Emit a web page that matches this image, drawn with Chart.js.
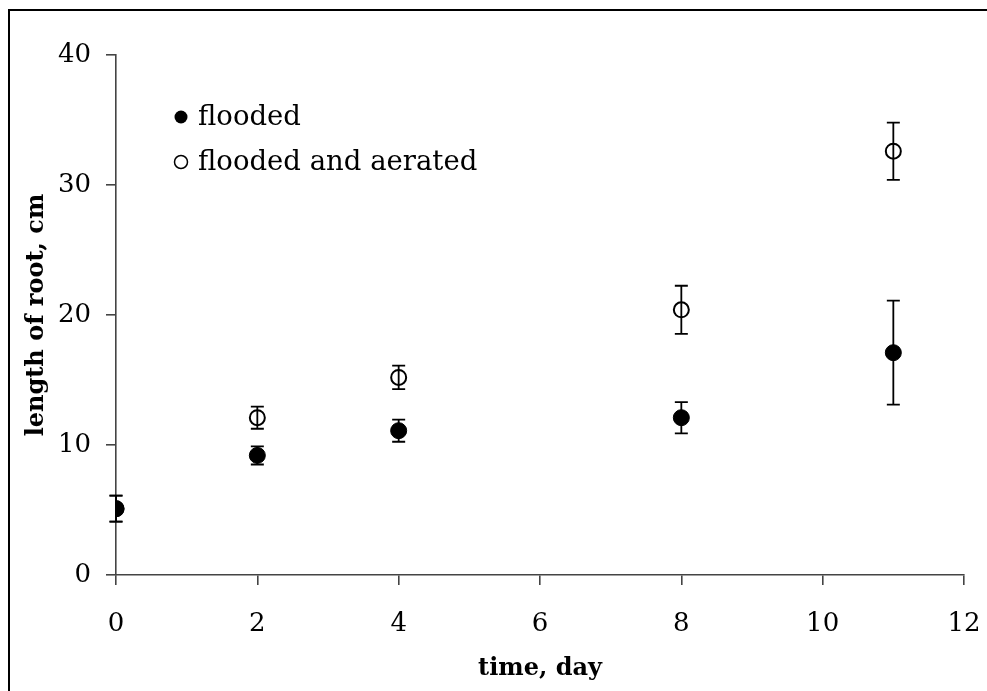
<!DOCTYPE html>
<html>
<head>
<meta charset="utf-8">
<script src="https://cdn.jsdelivr.net/npm/chart.js@4.4.0/dist/chart.umd.min.js"></script>
<style>
  body { margin: 0; background: #fff; overflow: hidden; }
  #frame { position: absolute; left: 8px; top: 9px; width: 1100px; height: 800px; border: 2px solid #000; }
  #wrap { position: absolute; left: 0; top: 0; width: 987px; height: 691px; }
</style>
</head>
<body>
<div id="frame"></div>
<div id="wrap"><canvas id="canvas"></canvas></div>
<script>
// data
const days = [0, 2, 4, 8, 11];
const flooded = [5.1, 9.2, 11.1, 12.1, 17.1];
const floodedErr = [1.0, 0.7, 0.85, 1.2, 4.0];
const aerated = [5.1, 12.1, 15.2, 20.4, 32.6];
const aeratedErr = [1.0, 0.85, 0.9, 1.85, 2.2];
const xTicks = [0, 2, 4, 6, 8, 10, 12];
const yTicks = [0, 10, 20, 30, 40];

const serif = 'DejaVu Serif';
const axisColor = '#444';

function toPoints(ys, errs) {
  return days.map((d, i) => ({ x: d, y: ys[i], err: errs[i] }));
}

// error bars, drawn through the scales
const errorBars = {
  id: 'errorBars',
  afterDatasetsDraw(chart) {
    const ctx = chart.ctx;
    const xs = chart.scales.x, ys = chart.scales.y;
    ctx.save();
    ctx.strokeStyle = '#000';
    ctx.lineWidth = 1.8;
    chart.data.datasets.forEach(ds => {
      ds.data.forEach(p => {
        const px = xs.getPixelForValue(p.x);
        const top = ys.getPixelForValue(p.y + p.err);
        const bot = ys.getPixelForValue(p.y - p.err);
        ctx.beginPath();
        ctx.moveTo(px, top); ctx.lineTo(px, bot);
        ctx.moveTo(px - 6.5, top); ctx.lineTo(px + 6.5, top);
        ctx.moveTo(px - 6.5, bot); ctx.lineTo(px + 6.5, bot);
        ctx.stroke();
      });
    });
    ctx.restore();
  }
};

// legend inside the plot, top left
const innerLegend = {
  id: 'innerLegend',
  afterDraw(chart) {
    const ctx = chart.ctx;
    const area = chart.chartArea;
    ctx.save();
    ctx.font = '27.5px "' + serif + '"';
    ctx.textBaseline = 'middle';
    ctx.fillStyle = '#000';
    chart.data.datasets.forEach((ds, i) => {
      const cx = area.left + 65;
      const cy = area.top + 62 + i * 45;
      ctx.beginPath();
      ctx.arc(cx, cy, 6.5, 0, Math.PI * 2);
      if (i === 0) {
        ctx.fill();
      } else {
        ctx.fillStyle = '#fff';
        ctx.fill();
        ctx.lineWidth = 1.5;
        ctx.strokeStyle = '#000';
        ctx.stroke();
        ctx.fillStyle = '#000';
      }
      ctx.fillText(ds.label, cx + 17, cy + 1);
    });
    ctx.restore();
  }
};

const ctx = document.getElementById('canvas').getContext('2d');

new Chart(ctx, {
  type: 'scatter',
  data: {
    datasets: [
      {
        label: 'flooded',
        data: toPoints(flooded, floodedErr),
        pointRadius: 8,
        pointHoverRadius: 8,
        pointBackgroundColor: '#000',
        pointBorderColor: '#000',
        pointBorderWidth: 1
      },
      {
        label: 'flooded and aerated',
        data: toPoints(aerated, aeratedErr),
        pointRadius: 7.5,
        pointHoverRadius: 7.5,
        pointBackgroundColor: '#fff',
        pointBorderColor: '#000',
        pointBorderWidth: 2
      }
    ]
  },
  options: {
    responsive: true,
    maintainAspectRatio: false,
    animation: false,
    layout: { padding: { top: 55, right: 23, bottom: 0, left: 0 } },
    plugins: {
      legend: { display: false },
      tooltip: { enabled: false }
    },
    scales: {
      x: {
        type: 'linear',
        min: 0,
        max: 12,
        afterBuildTicks: scale => { scale.ticks = xTicks.map(v => ({ value: v })); },
        afterFit: scale => {
          scale.height = 116;
          scale.paddingLeft = 0;
          scale.paddingRight = 0;
        },
        border: { display: true, color: axisColor, width: 1.6 },
        grid: { drawOnChartArea: false, drawTicks: true, tickLength: 10, color: axisColor, lineWidth: 1.6 },
        ticks: { color: '#000', padding: 24, font: { family: serif, size: 26 } },
        title: {
          display: true,
          text: 'time, day',
          color: '#000',
          font: { family: serif, size: 24, weight: 'bold' },
          padding: { top: 0, bottom: 8 }
        }
      },
      y: {
        min: 0,
        max: 40,
        afterBuildTicks: scale => { scale.ticks = yTicks.map(v => ({ value: v })); },
        afterFit: scale => { scale.width = 116; },
        border: { display: true, color: axisColor, width: 1.6 },
        grid: { drawOnChartArea: false, drawTicks: true, tickLength: 10, color: axisColor, lineWidth: 1.6 },
        ticks: { color: '#000', padding: 15, font: { family: serif, size: 26 } },
        title: {
          display: true,
          text: 'length of root, cm',
          color: '#000',
          font: { family: serif, size: 24, weight: 'bold' },
          padding: { top: 22, bottom: 0 }
        }
      }
    }
  },
  plugins: [errorBars, innerLegend]
});
</script>
</body>
</html>
